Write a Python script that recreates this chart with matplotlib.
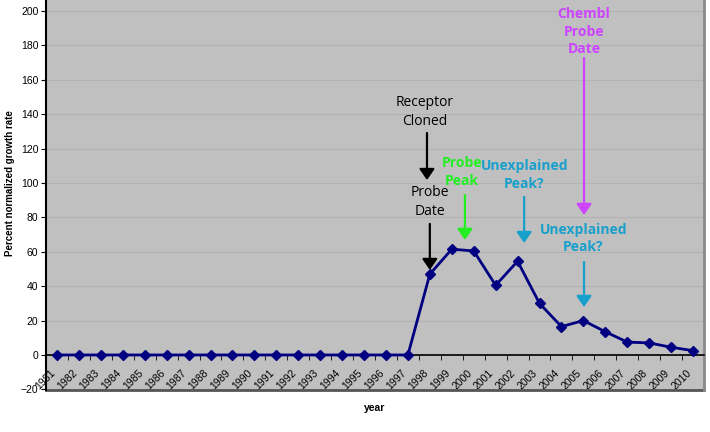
import numpy as np
import matplotlib.pyplot as plt
from matplotlib.transforms import ScaledTranslation

years = [str(y) for y in range(1981, 2011)]
rate = [0, 0, 0, 0, 0, 0, 0, 0, 0, 0, 0, 0, 0, 0, 0, 0, 0,
        47, 61.5, 60.5, 40.5, 54.5, 30, 16.5, 20, 13.5, 7.5, 7, 4.5, 2.5]

# (text, x, y, colour, bold) and arrows (x, y_from, y_to, colour)
notes = [("Receptor\nCloned", 16.78, 141.3, "black", False),
         ("Probe\nDate", 17.0, 89.0, "black", False),
         ("Probe\nPeak", 18.47, 106.4, "#22ee22", True),
         ("Unexplained\nPeak?", 21.3, 104.7, "#18a0cc", True),
         ("Chembl\nProbe\nDate", 24.03, 188.0, "#cc44ff", True),
         ("Unexplained\nPeak?", 23.99, 67.7, "#18a0cc", True)]
arrows = [(16.87, 129.1, 101.7, "black"),
          (17.0, 76.2, 49.4, "black"),
          (18.6, 93.0, 66.9, "#22ee22"),
          (21.3, 91.9, 65.1, "#18a0cc"),
          (24.03, 172.7, 81.4, "#cc44ff"),
          (24.03, 54.1, 27.9, "#18a0cc")]

plt.rcParams['font.family'] = ['Liberation Sans', 'DejaVu Sans']

fig = plt.figure(figsize=(7.1, 4.32), dpi=100)
ax = fig.add_axes([46/710, 0.0975, 658/710, 0.9025])
ax.set_facecolor('#c0c0c0')

x = np.arange(len(years))
ax.plot(x, rate, color='#000080', lw=2, marker='D', ms=5.5, zorder=3)

ax.set_xlim(-0.5, len(years) - 0.5)
ax.set_ylim(-20.3, 206.4)
ax.set_yticks(range(-20, 201, 20))
ax.yaxis.grid(True, color='#b2b2b2', lw=0.8)
ax.set_axisbelow(True)

ax.spines['top'].set_visible(False)
ax.spines['left'].set_color('black')
ax.spines['left'].set_linewidth(1.5)
ax.spines['right'].set_color('#8a8a8a')
ax.spines['right'].set_linewidth(2)
ax.spines['bottom'].set_position(('data', 0))
ax.spines['bottom'].set_color('black')
ax.spines['bottom'].set_linewidth(1.2)
ax.axhline(-20.3, color='#555555', lw=2, clip_on=False)

ax.set_xticks(x)
ax.set_xticks(np.arange(-0.5, len(years)), minor=True)
ax.tick_params(axis='x', which='major', length=0, pad=7)
ax.tick_params(axis='x', which='minor', length=3.5, direction='out', color='black')
ax.tick_params(axis='y', length=3.5, labelsize=7.5, pad=2)
ax.set_xticklabels(years, rotation=45, ha='right', va='top',
                   rotation_mode='anchor', fontsize=7.5)
shift = ScaledTranslation(-7/100, -3/100, fig.dpi_scale_trans)
for lab in ax.get_xticklabels():
    lab.set_transform(lab.get_transform() + shift)

fig.text(10/710, 1 - 183/432, "Percent normalized growth rate", rotation=90,
         ha='center', va='center', fontsize=7, fontweight='bold')
fig.text(375/710, 1 - 408/432, "year", ha='center', va='center',
         fontsize=7.5, fontweight='bold')

for txt, tx, ty, col, bold in notes:
    ax.text(tx, ty, txt, color=col, ha='center', va='center', fontsize=10,
            fontweight='bold' if bold else 'normal', family='Open Sans',
            linespacing=1.35, zorder=4)
for ax_x, y0, y1, col in arrows:
    ax.annotate('', xy=(ax_x, y1), xytext=(ax_x, y0),
                arrowprops=dict(arrowstyle='-|>,head_width=0.38,head_length=0.55',
                                color=col, lw=1.6, mutation_scale=12,
                                shrinkA=0, shrinkB=0))

fig.savefig('out.png', dpi=100)
